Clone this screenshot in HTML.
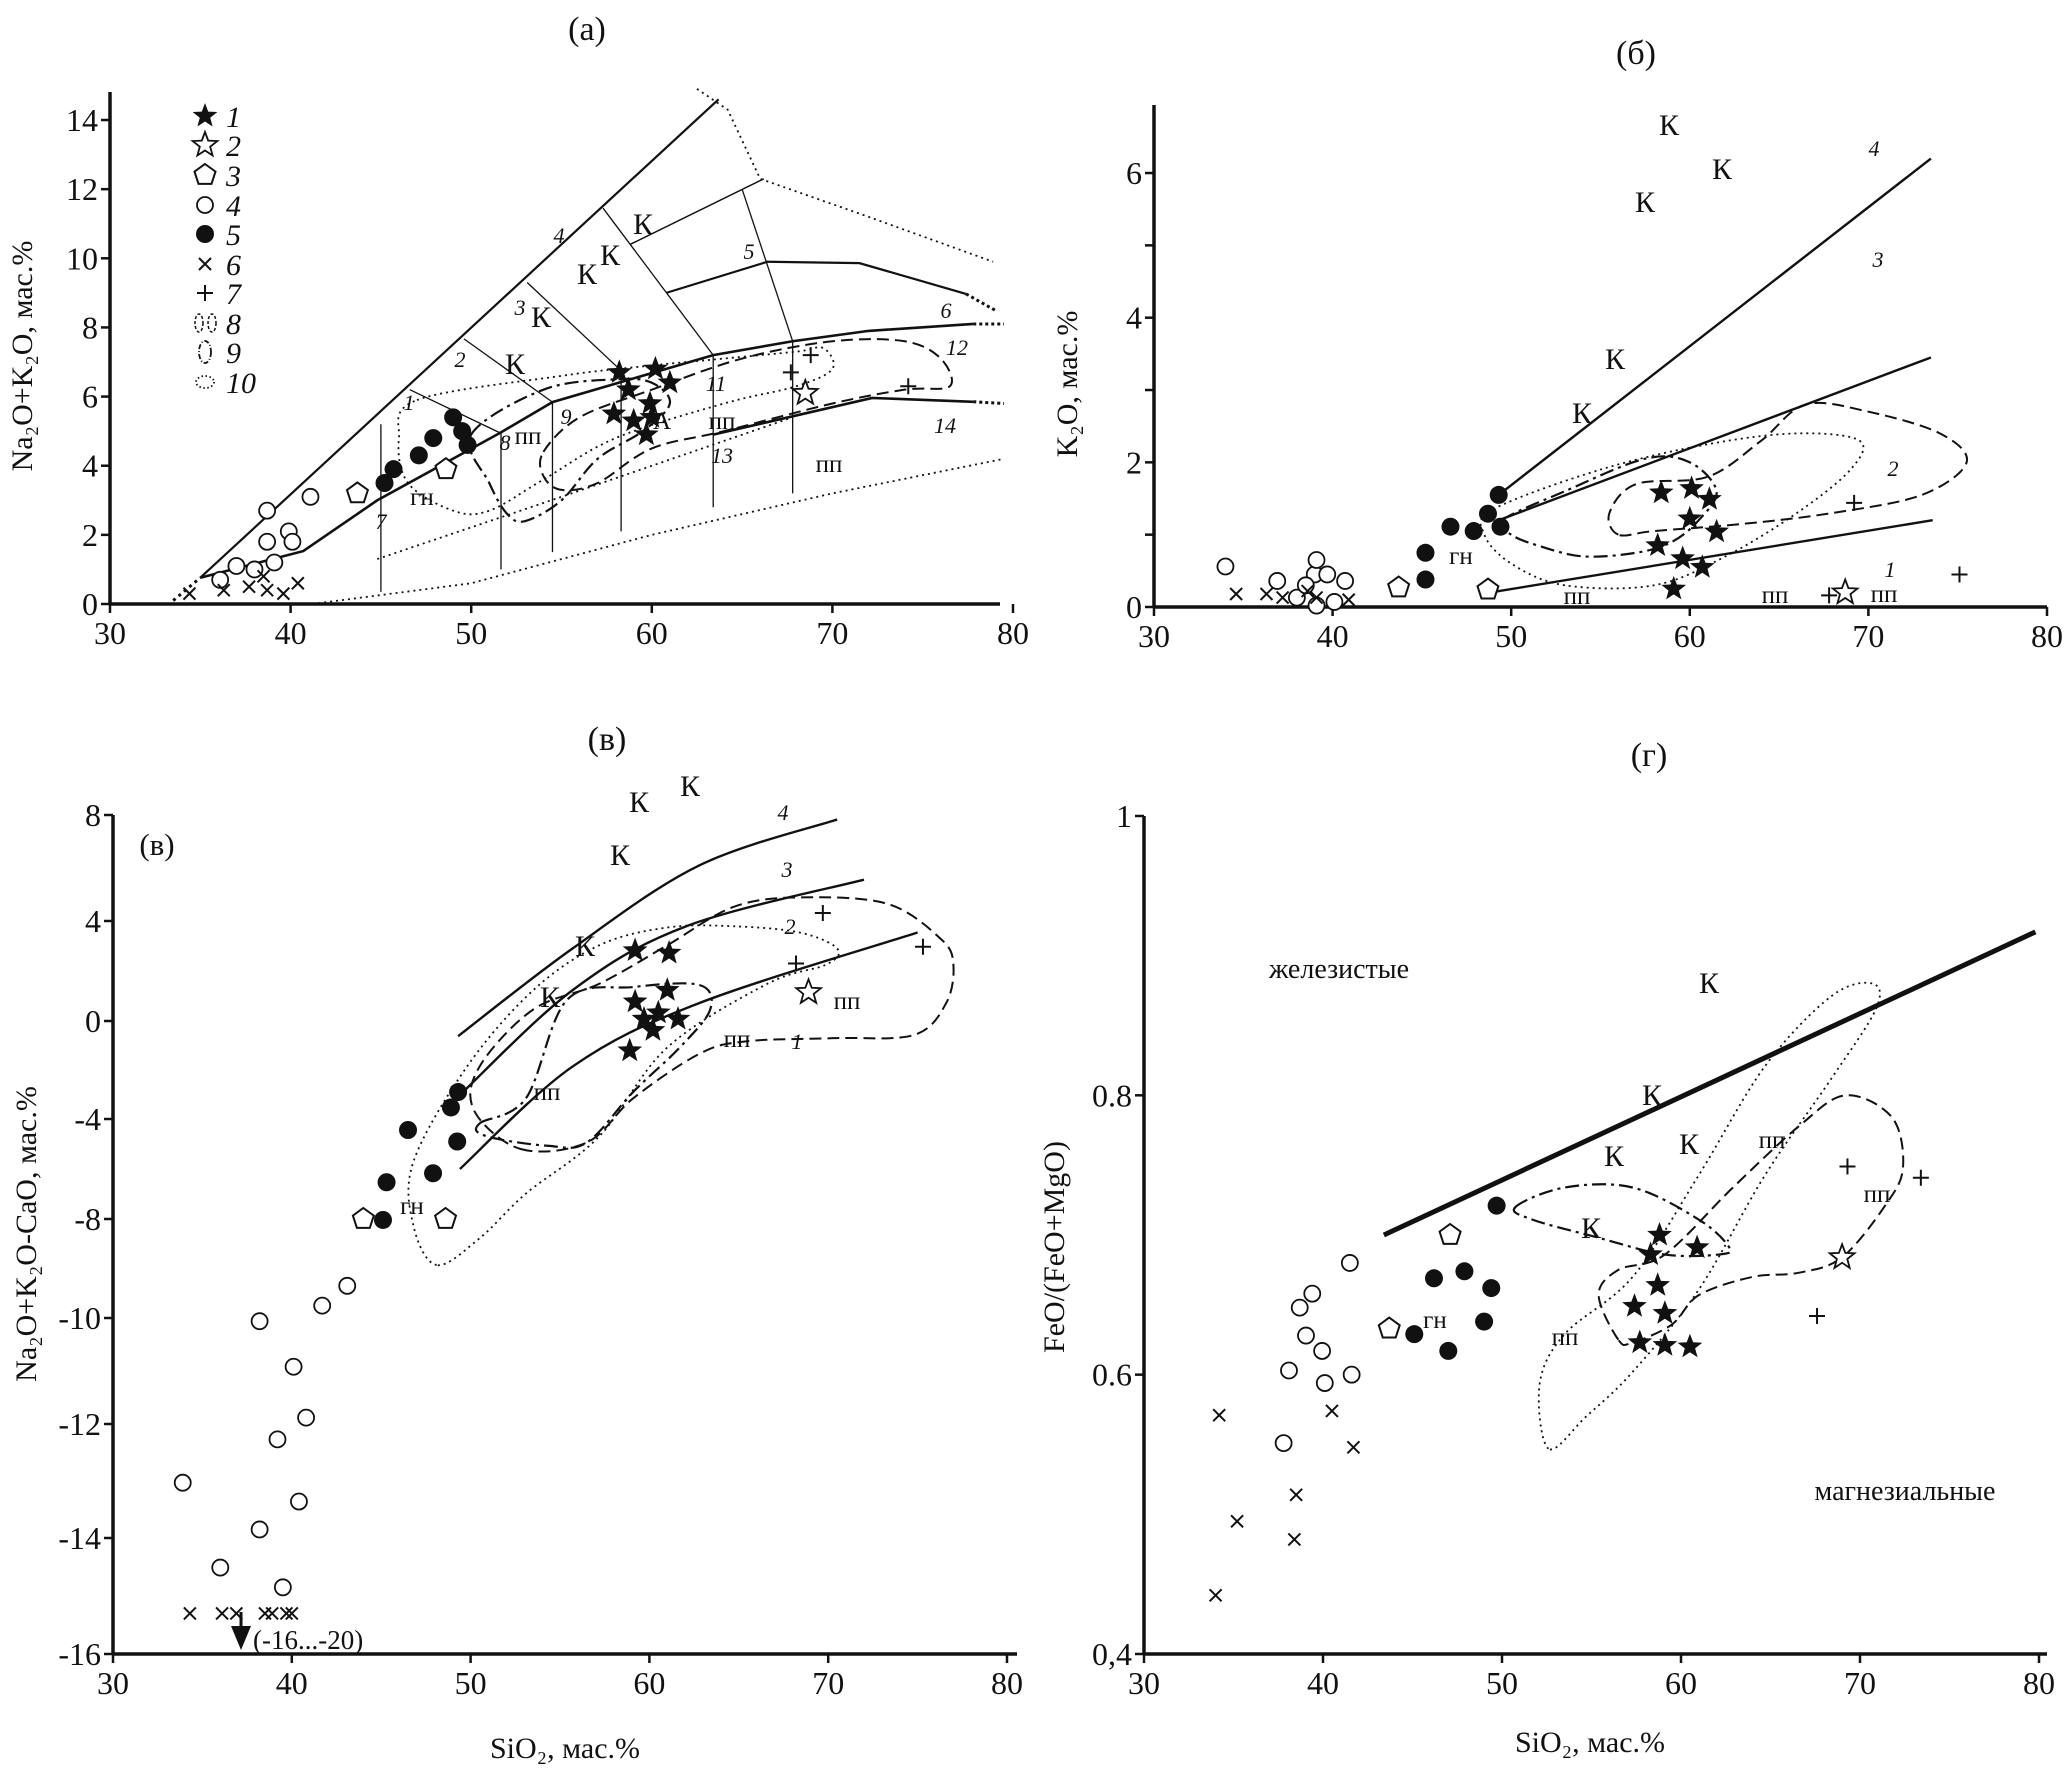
<!DOCTYPE html>
<html><head><meta charset="utf-8"><style>
html,body{margin:0;padding:0;background:#fff;}
svg{display:block;font-family:"Liberation Serif",serif;}
</style></head><body>
<svg id="fig" xmlns="http://www.w3.org/2000/svg" width="2065" height="1779" viewBox="0 0 2065 1779"></svg>
<script>
// ===== Panel (a) data: SiO2 vs Na2O+K2O =====
const aStar1=[[58.2,6.7],[60.2,6.8],[58.7,6.2],[61,6.4],[57.9,5.5],[59.9,5.8],[59,5.3],[60,5.4],[59.7,4.9]];
const aStar2=[[68.5,6.1]];
const aPent=[[43.7,3.2],[48.6,3.9]];
const aOpen=[[38.7,2.7],[41.1,3.1],[39.9,2.1],[40.1,1.8],[38.7,1.8],[39.1,1.2],[38,1.0],[37,1.1],[36.1,0.7]];
const aFill=[[45.2,3.5],[45.7,3.9],[47.1,4.3],[47.9,4.8],[49,5.4],[49.5,5.0],[49.8,4.6]];
const aCross=[[34.4,0.3],[36.3,0.4],[37.7,0.5],[38.7,0.4],[38.5,0.8],[39.6,0.3],[40.4,0.6]];
const aPlus=[[68.8,7.2],[67.7,6.7],[74.2,6.3]];
const aXTicks=[30,40,50,60,70,80];
const aYTicks=[0,2,4,6,8,10,12,14];
// ===== Panel (б) data: SiO2 vs K2O =====
const bStar1=[[58.4,1.58],[60.1,1.64],[61.1,1.49],[60,1.22],[61.5,1.04],[58.2,0.85],[59.6,0.67],[60.7,0.55],[59.1,0.25]];
const bStar2=[[68.7,0.2]];
const bPent=[[43.7,0.27],[48.7,0.24]];
const bFill=[[49.3,1.55],[48.7,1.29],[46.6,1.11],[47.9,1.05],[49.4,1.11],[45.2,0.75],[45.2,0.38]];
const bOpen=[[34,0.56],[36.9,0.36],[39,0.45],[39.1,0.65],[39.7,0.45],[40.7,0.36],[38,0.13],[39.1,0.02],[40.1,0.07],[38.5,0.3]];
const bCross=[[34.6,0.18],[36.3,0.18],[37.2,0.13],[38.6,0.22],[39.1,0.13],[40.9,0.1]];
const bPlus=[[69.2,1.44],[75.1,0.45],[67.8,0.16]];
const bXTicks=[30,40,50,60,70,80];
const bYTicks=[0,1,2,3,4,5,6];
const bYLabels=["0","","2","","4","","6"];
// ===== Panel (в) data: SiO2 vs Na2O+K2O-CaO =====
const cStar1=[[59.2,2.82],[61.1,2.72],[61.0,1.23],[59.2,0.77],[59.7,0.08],[60.5,0.33],[60.2,-0.38],[61.6,0.08],[58.9,-1.21]];
const cStar2=[[68.9,1.15]];
const cPlus=[[69.7,4.3],[68.2,2.3],[75.3,2.97]];
const cFill=[[49.3,-2.9],[48.9,-3.53],[46.5,-4.44],[49.25,-4.9],[47.9,-6.17],[45.3,-6.53],[45.1,-8.02]];
const cPent=[[44.0,-8.0],[48.6,-8.0]];
const cOpen=[[43.1,-9.35],[41.7,-9.75],[38.2,-10.06],[40.1,-10.92],[40.8,-11.88],[39.2,-12.27],[33.9,-13.03],[40.4,-13.36],[38.2,-13.85],[36.0,-14.51],[39.5,-14.85]];
const cCross=[[34.3,-15.3],[36.1,-15.3],[36.9,-15.3],[38.5,-15.3],[38.9,-15.3],[39.7,-15.3],[40.0,-15.3]];
const cXTicks=[30,40,50,60,70,80];
const cYTicks=[8,4,0,-4,-8,-10,-12,-14,-16];
// ===== Panel (г) data: SiO2 vs FeO/(FeO+MgO) =====
const dStar1=[[58.8,0.70],[58.3,0.686],[60.9,0.691],[58.7,0.664],[57.4,0.649],[59.1,0.644],[57.7,0.623],[59.1,0.621],[60.5,0.62]];
const dStar2=[[69.0,0.684]];
const dPlus=[[69.3,0.749],[73.4,0.741],[67.6,0.642]];
const dFill=[[49.7,0.721],[46.2,0.669],[47.9,0.674],[49.4,0.662],[49.0,0.638],[45.1,0.629],[47.0,0.617]];
const dPent=[[47.1,0.70],[43.7,0.633]];
const dOpen=[[41.5,0.68],[39.4,0.658],[38.7,0.648],[39.05,0.628],[39.95,0.617],[38.1,0.603],[40.1,0.594],[41.6,0.60],[37.8,0.551]];
const dCross=[[34.2,0.571],[40.5,0.574],[41.7,0.548],[38.5,0.514],[35.2,0.495],[38.4,0.482],[34.0,0.442]];
const dXTicks=[30,40,50,60,70,80];
const dYTicks=[0.4,0.6,0.8,1];
const dYLabels=["0,4","0.6","0.8","1"];

const NS="http://www.w3.org/2000/svg";
const svg=document.getElementById('fig');
function mk(tag,attrs,parent){const e=document.createElementNS(NS,tag);for(const k in attrs)e.setAttribute(k,attrs[k]);(parent||svg).appendChild(e);return e;}
function txt(s,x,y,size,opts,parent){opts=opts||{};const e=mk('text',{x:x,y:y,'font-size':size,'text-anchor':opts.anchor||'middle','font-style':opts.italic?'italic':'normal',fill:'#111'},parent);if(opts.rot)e.setAttribute('transform','rotate(-90 '+x+' '+y+')');e.textContent=s;return e;}

const A={sx:v=>110+(v-30)*18.06, sy:v=>604-v*34.57};
const B={sx:v=>1154+(v-30)*17.86, sy:v=>607-v*72.33};
const cPos=[815,921,1021,1119,1219,1318,1424,1538,1654];
function cSy(v){if(v>=cYTicks[0])return cPos[0]-(v-cYTicks[0])*26.5;for(let i=0;i<cYTicks.length-1;i++){const a=cYTicks[i],b=cYTicks[i+1];if(v<=a&&v>=b)return cPos[i]+(a-v)/(a-b)*(cPos[i+1]-cPos[i]);}return cPos[cPos.length-1]+(cYTicks[cYTicks.length-1]-v)*55;}
const C={sx:v=>113+(v-30)*17.88, sy:cSy};
const D={sx:v=>1144+(v-30)*17.9, sy:v=>1654-(v-0.4)*1396.7};

function pts(S,arr){return arr.map(p=>[S.sx(p[0]),S.sy(p[1])]);}
function poly(S,arr,style,g){return mk('polyline',Object.assign({points:pts(S,arr).map(p=>p.join(',')).join(' '),fill:'none',stroke:'#111'},style),g);}
function smooth(P,closed){const n=P.length;let d='M'+P[0][0]+','+P[0][1];const get=i=>closed?P[(i+n)%n]:P[Math.max(0,Math.min(n-1,i))];const m=closed?n:n-1;for(let i=0;i<m;i++){const p0=get(i-1),p1=get(i),p2=get(i+1),p3=get(i+2);d+=' C'+(p1[0]+(p2[0]-p0[0])/6)+','+(p1[1]+(p2[1]-p0[1])/6)+' '+(p2[0]-(p3[0]-p1[0])/6)+','+(p2[1]-(p3[1]-p1[1])/6)+' '+p2[0]+','+p2[1];}return d+(closed?'Z':'');}
function curve(S,arr,closed,style,g){return mk('path',Object.assign({d:smooth(pts(S,arr),closed),fill:'none',stroke:'#111'},style),g);}
const DOT={'stroke-width':1.8,'stroke-dasharray':'2 4'}, DASH={'stroke-width':2,'stroke-dasharray':'12 6'}, DD={'stroke-width':2.2,'stroke-dasharray':'14 5 3 5'};

function starPath(cx,cy,r){let d='';for(let i=0;i<10;i++){const a=-Math.PI/2+i*Math.PI/5,rr=i%2?r*0.42:r;d+=(i?'L':'M')+(cx+rr*Math.cos(a)).toFixed(1)+','+(cy+rr*Math.sin(a)).toFixed(1);}return d+'Z';}
function pentPath(cx,cy,r){let d='';for(let i=0;i<5;i++){const a=-Math.PI/2+i*2*Math.PI/5;d+=(i?'L':'M')+(cx+r*Math.cos(a)).toFixed(1)+','+(cy+r*Math.sin(a)).toFixed(1);}return d+'Z';}
function marker(type,x,y,g){
  if(type==='star1')return mk('path',{d:starPath(x,y,13),fill:'#111'},g);
  if(type==='star2')return mk('path',{d:starPath(x,y,13),fill:'#fff',stroke:'#111','stroke-width':1.8},g);
  if(type==='pent')return mk('path',{d:pentPath(x,y,11),fill:'#fff',stroke:'#111','stroke-width':2},g);
  if(type==='open')return mk('circle',{cx:x,cy:y,r:8,fill:'#fff',stroke:'#111','stroke-width':1.8},g);
  if(type==='fill')return mk('circle',{cx:x,cy:y,r:9,fill:'#111'},g);
  if(type==='cross')return mk('path',{d:`M${x-6},${y-6}L${x+6},${y+6}M${x+6},${y-6}L${x-6},${y+6}`,stroke:'#111','stroke-width':2},g);
  if(type==='plus')return mk('path',{d:`M${x-8},${y}L${x+8},${y}M${x},${y-8}L${x},${y+8}`,stroke:'#111','stroke-width':2},g);
}
function series(S,arr,type,name,g){arr.forEach(p=>{const el=marker(type,S.sx(p[0]),S.sy(p[1]),g);

});}

function axes(S,g,xt,yt,ylab,xEnd,yTop){
  const x0=S.sx(30),y0=S.sy(yt[0]<yt[yt.length-1]?yt[0]:yt[yt.length-1]);
  const xa=mk('line',{x1:x0,y1:y0,x2:xEnd,y2:y0,stroke:'#111','stroke-width':3.5},g);
  
  
  const ya=mk('line',{x1:x0,y1:y0,x2:x0,y2:yTop,stroke:'#111','stroke-width':3.5},g);
  
  
  xt.forEach(v=>{mk('line',{x1:S.sx(v),y1:y0,x2:S.sx(v),y2:y0+9,stroke:'#111','stroke-width':2.5},g);
    const t=txt(String(v),S.sx(v),y0+40,32,{},g);
    
    });
  yt.forEach((v,i)=>{mk('line',{x1:x0-9,y1:S.sy(v),x2:x0,y2:S.sy(v),stroke:'#111','stroke-width':2.5},g);
    const s=ylab?ylab[i]:String(v);if(s){const t=txt(s,x0-12,S.sy(v)+11,32,{anchor:'end'},g);
    
    }});
}
function group(name){const g=mk('g',{});return g;}

// ---------- Panel a ----------
let g=group('panel-a-tas');
txt('(a)',587,40,34,{},g);
axes(A,g,aXTicks,aYTicks,null,1000,92);
txt('Na\u2082O+K\u2082O, мас.%',32,356,30,{rot:true},g);
poly(A,[[33.5,0.1],[35,0.76]],{'stroke-width':3,'stroke-dasharray':'3 4'},g);
poly(A,[[35,0.76],[63.7,14.6]],{'stroke-width':2.2},g);
poly(A,[[35,0.76],[40.7,1.53],[44.8,3.0],[51.6,4.95],[54.5,5.84],[63.4,7.2],[67.8,7.6],[72,7.9],[77.8,8.1]],{'stroke-width':2.6},g);
poly(A,[[77.8,8.1],[79.5,8.1]],{'stroke-width':3,'stroke-dasharray':'3 3'},g);
poly(A,[[63.4,4.9],[72.2,5.96],[77.8,5.85]],{'stroke-width':2.6},g);
poly(A,[[77.8,5.85],[79.5,5.8]],{'stroke-width':3,'stroke-dasharray':'3 3'},g);
poly(A,[[60.8,9.0],[66.4,9.9],[71.5,9.86],[77.4,8.97]],{'stroke-width':2.2},g);
poly(A,[[77.4,8.97],[79,8.5]],{'stroke-width':3,'stroke-dasharray':'3 3'},g);
poly(A,[[58.8,10.4],[66.2,12.3]],{'stroke-width':1.5},g);
[[[46.6,6.2],[51.6,4.95]],[[49.6,7.67],[54.5,5.84]],[[53.1,9.3],[58.2,6.8]],[[57.3,11.45],[63.4,7.2]],[[65.0,12.0],[67.8,7.6]],
 [[45,5.2],[45,0.35]],[[51.65,4.95],[51.65,1.0]],[[54.5,5.84],[54.5,1.5]],[[58.3,6.8],[58.3,2.1]],[[63.4,7.2],[63.4,2.8]],[[67.8,7.6],[67.8,3.2]]].forEach(l=>poly(A,l,{'stroke-width':1.3},g));
poly(A,[[41.2,0],[50,0.6],[60,2.0],[70,3.2],[79.5,4.2]],DOT,g);
poly(A,[[44.8,1.3],[55,3.1],[67.8,5.4]],DOT,g);
poly(A,[[62.5,14.9],[64.2,14.3],[66.0,12.3],[72,11.2],[78.9,9.9]],DOT,g);
curve(A,[[47,5.9],[55,6.6],[60,6.9],[64,7.1],[68,7.3],[69.5,7.4],[70,6.8],[68,6.3],[64,5.8],[58,4.8],[54,3.6],[51,2.7],[49,2.7],[46.5,3.5],[46,4.8]],true,DOT,g);
curve(A,[[50,4.9],[54,6.2],[58,6.5],[60,6.4],[61,5.8],[59.5,5],[57,4.2],[55,3.0],[53,2.4],[52,2.6],[51,3.5]],true,DD,g);
curve(A,[[54,4.4],[56,5.4],[60,6.2],[65,7.1],[70,7.6],[74,7.6],[76,7.1],[76.5,6.3],[74,6.2],[70,5.8],[64,5.0],[60,4.5],[57,3.5],[55,3.3],[54,3.7]],true,DASH,g);
series(A,aStar1,'star1','star-point-1',g);series(A,aStar2,'star2','open-star-point',g);series(A,aPent,'pent','pentagon-point',g);
series(A,aOpen,'open','open-circle-point',g);series(A,aFill,'fill','filled-circle-point',g);series(A,aCross,'cross','cross-point',g);series(A,aPlus,'plus','plus-point',g);
[['К',643,234],['К',610,265],['К',587,284],['К',541,327],['К',515,374]].forEach(t=>txt(t[0],t[1],t[2],30,{},g));
[['4',559,243],['3',520,315],['2',460,367],['1',409,410],['7',381,529],['8',505,450],['9',566,424],['5',749,259],['6',946,318],['12',957,355],['11',716,391],['13',722,463],['14',945,433]].forEach(t=>txt(t[0],t[1],t[2],22,{italic:true},g));
[['пп',528,444],['пп',722,429],['пп',829,472],['гн',422,505],['А',662,429]].forEach(t=>txt(t[0],t[1],t[2],25,{},g));
const lg=group('legend');
const legT=['star1','star2','pent','open','fill','cross','plus'];
const legY=[116,145,175,205,234,264,293,323,352,382];
legT.forEach((t,i)=>{const el=marker(t,205,legY[i],lg);});
mk('ellipse',{cx:199,cy:legY[7],rx:4,ry:9,fill:'none',stroke:'#111','stroke-width':1.5,'stroke-dasharray':'3 2'},lg);
mk('ellipse',{cx:212,cy:legY[7],rx:4,ry:9,fill:'none',stroke:'#111','stroke-width':1.5,'stroke-dasharray':'3 2'},lg);
mk('ellipse',{cx:205,cy:legY[8],rx:6,ry:11,fill:'none',stroke:'#111','stroke-width':1.8,'stroke-dasharray':'5 2 1 2'},lg);
mk('ellipse',{cx:205,cy:legY[9],rx:9,ry:6,fill:'none',stroke:'#111','stroke-width':1.8,'stroke-dasharray':'1.5 2.5'},lg);
legY.forEach((y,i)=>{const t=txt(String(i+1),226,y+11,30,{anchor:'start',italic:true},lg);

});

// ---------- Panel б ----------
g=group('panel-b-k2o');
txt('(б)',1636,64,34,{},g);
axes(B,g,bXTicks,bYTicks,bYLabels,2047,105);
txt('K\u2082O, мас.%',1077,384,30,{rot:true},g);
poly(B,[[49.3,1.55],[73.5,6.2]],{'stroke-width':2.4},g);
poly(B,[[49.3,1.2],[73.5,3.45]],{'stroke-width':2.4},g);
poly(B,[[48.8,0.2],[73.6,1.2]],{'stroke-width':2.4},g);
curve(B,[[56,1.0],[55.5,1.3],[57,1.7],[61,1.8],[64,2.3],[66.5,2.8],[70,2.7],[74,2.4],[75.5,2.0],[73,1.55],[68,1.3],[63,1.15],[58,1.05]],true,DASH,g);
curve(B,[[49,1.35],[55,1.9],[61,2.25],[66,2.4],[69.5,2.3],[69,1.9],[66,1.3],[62,0.7],[58,0.3],[53,0.3],[50,0.6],[48.5,1.0]],true,DOT,g);
curve(B,[[49.5,1.2],[53,1.6],[57.5,2.05],[60,2.0],[61.5,1.6],[60.5,1.2],[59,0.9],[57,0.75],[54,0.7],[51.5,0.85],[50,1.0]],true,DD,g);
series(B,bStar1,'star1','star-point-1',g);series(B,bStar2,'star2','open-star-point',g);series(B,bPent,'pent','pentagon-point',g);
series(B,bOpen,'open','open-circle-point',g);series(B,bFill,'fill','filled-circle-point',g);series(B,bCross,'cross','cross-point',g);series(B,bPlus,'plus','plus-point',g);
[['К',1669,135],['К',1722,179],['К',1645,212],['К',1615,369],['К',1582,423]].forEach(t=>txt(t[0],t[1],t[2],30,{},g));
[['4',1874,156],['3',1878,267],['2',1893,476],['1',1890,577]].forEach(t=>txt(t[0],t[1],t[2],22,{italic:true},g));
[['пп',1577,604],['пп',1775,603],['пп',1884,602],['гн',1461,564]].forEach(t=>txt(t[0],t[1],t[2],25,{},g));

// ---------- Panel в ----------
g=group('panel-c-mali');
txt('(в)',607,750,34,{},g);
axes(C,g,cXTicks,cYTicks,null,1017,815);
txt('Na\u2082O+K\u2082O-CaO, мас.%',36,1234,30,{rot:true},g);
txt('SiO\u2082, мас.%',565,1758,30,{},g);
txt('(в)',157,855,31,{},g);
curve(C,[[49.3,-0.62],[55.7,2.9],[62.8,6.1],[70.5,7.83]],false,{'stroke-width':2.4},g);
curve(C,[[49.4,-3.02],[55.7,1.23],[62.1,3.8],[72,5.56]],false,{'stroke-width':2.4},g);
curve(C,[[49.4,-6.0],[55.7,-1.86],[62.8,0.72],[75,3.54]],false,{'stroke-width':2.4},g);
curve(C,[[48.1,-8.93],[46.8,-8.13],[46.8,-5.71],[49.8,-1.86],[53.5,1.23],[57.2,3.03],[61.0,3.74],[64.7,3.79],[68.4,3.54],[70.5,2.9],[69.9,2.26],[66.6,1.49],[61.0,-1.08],[57.2,-4.69],[53.1,-6.98],[50.5,-8.39]],true,DOT,g);
curve(C,[[52.8,-5.2],[56.5,-4.94],[59.1,-3.15],[62.8,-1.34],[65.4,-0.83],[70.3,-0.70],[74.8,-0.57],[76.6,0.72],[77.0,2.26],[76.3,3.28],[73.3,4.65],[68.4,4.89],[64.7,4.53],[61.0,3.03],[57.2,1.49],[53.5,0.46],[50.5,-1.86],[50.2,-3.66]],true,DASH,g);
curve(C,[[50.5,-4.18],[53.1,-3.15],[55.4,0.85],[59.1,1.36],[62.8,1.44],[63.4,0.46],[61.7,-1.08],[59.1,-2.89],[56.5,-4.94],[54.3,-5.07],[50.9,-4.69]],true,DD,g);
series(C,cStar1,'star1','star-point-1',g);series(C,cStar2,'star2','open-star-point',g);series(C,cPent,'pent','pentagon-point',g);
series(C,cOpen,'open','open-circle-point',g);series(C,cFill,'fill','filled-circle-point',g);series(C,cCross,'cross','cross-point',g);series(C,cPlus,'plus','plus-point',g);
const ar=mk('path',{d:'M231,1626 L251,1626 L241,1650 Z',fill:'#111'},g);


mk('line',{x1:241,y1:1612,x2:241,y2:1630,stroke:'#111','stroke-width':3},g);
txt('(-16...-20)',253,1649,27,{anchor:'start'},g);
[['К',639,812],['К',690,796],['К',620,865],['К',585,956],['К',550,1007]].forEach(t=>txt(t[0],t[1],t[2],30,{},g));
[['4',783,820],['3',787,877],['2',790,934],['1',797,1049]].forEach(t=>txt(t[0],t[1],t[2],22,{italic:true},g));
[['пп',547,1100],['пп',847,1009],['пп',737,1047],['гн',412,1214]].forEach(t=>txt(t[0],t[1],t[2],25,{},g));

// ---------- Panel г ----------
g=group('panel-d-feo');
txt('(г)',1649,766,34,{},g);
axes(D,g,dXTicks,dYTicks,dYLabels,2047,816);
txt('FeO/(FeO+MgO)',1064,1247,30,{rot:true},g);
txt('SiO\u2082, мас.%',1590,1752,30,{},g);
poly(D,[[43.4,0.70],[79.8,0.917]],{'stroke-width':5},g);
curve(D,[[52.6,0.547],[52.1,0.593],[53.5,0.629],[57.3,0.67],[61.0,0.743],[64.7,0.821],[68.4,0.871],[70.7,0.88],[70.9,0.862],[68.4,0.812],[64.7,0.743],[61.0,0.661],[57.3,0.602],[54.7,0.57]],true,DOT,g);
curve(D,[[50.75,0.72],[53.5,0.734],[57.3,0.734],[61.0,0.711],[62.7,0.691],[62.1,0.686],[59.1,0.686],[55.4,0.698],[51.7,0.711]],true,DD,g);
curve(D,[[56.5,0.625],[55.4,0.657],[56.5,0.675],[59.1,0.686],[62.9,0.734],[66.6,0.778],[69.2,0.80],[71.8,0.784],[72.4,0.748],[71.4,0.721],[69.0,0.684],[66.6,0.673],[64.0,0.67],[61.0,0.657],[59.5,0.636],[57.3,0.623]],true,DASH,g);
series(D,dStar1,'star1','star-point-1',g);series(D,dStar2,'star2','open-star-point',g);series(D,dPent,'pent','pentagon-point',g);
series(D,dOpen,'open','open-circle-point',g);series(D,dFill,'fill','filled-circle-point',g);series(D,dCross,'cross','cross-point',g);series(D,dPlus,'plus','plus-point',g);
txt('железистые',1339,978,28,{},g);
txt('магнезиальные',1905,1500,28,{},g);
[['К',1709,993],['К',1652,1105],['К',1614,1166],['К',1689,1154],['К',1591,1238]].forEach(t=>txt(t[0],t[1],t[2],30,{},g));
[['пп',1772,1148],['пп',1877,1202],['пп',1565,1345],['гн',1435,1328]].forEach(t=>txt(t[0],t[1],t[2],25,{},g));
</script>
</body></html>
